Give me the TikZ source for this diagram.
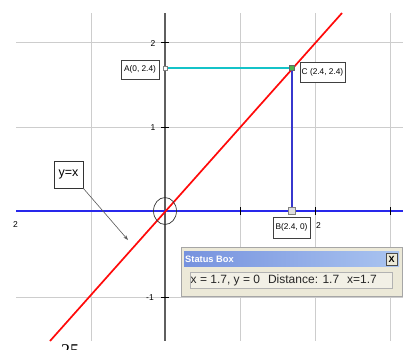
\documentclass[tikz,border=0pt]{standalone}
\usepackage{fontspec}
\setmainfont{Liberation Sans}
\newfontfamily\serifrm{Liberation Serif}
\usetikzlibrary{arrows.meta,shapes.geometric}
\definecolor{gridc}{RGB}{205,205,205}
\definecolor{axisc}{RGB}{95,95,95}
\definecolor{xaxisblue}{RGB}{40,40,235}
\definecolor{vblue}{RGB}{55,55,205}
\definecolor{cyanl}{RGB}{20,195,200}
\definecolor{redl}{RGB}{255,10,10}
\definecolor{winbg}{RGB}{236,233,216}
\definecolor{titleL}{RGB}{118,146,222}
\definecolor{titleR}{RGB}{170,196,240}
\definecolor{fieldbg}{RGB}{242,240,230}
\tikzset{
  gridline/.style={draw=gridc, line width=0.9pt},
  lbl/.style={draw=black!75, fill=white, line width=0.6pt, inner sep=0pt,
              font=\fontsize{8.3}{9}\selectfont},
  tick/.style={draw=black, line width=0.8pt},
  ticklbl/.style={inner sep=0pt, font=\fontsize{8.5}{9}\selectfont},
}
\begin{document}
\begin{tikzpicture}[x=1pt,y=-1pt]
\useasboundingbox[fill=white] (0,0) rectangle (403,349);
% grid
\foreach \x in {91,240,315,390} \draw[gridline] (\x,13) -- (\x,341);
\foreach \y in {42,127,297} \draw[gridline] (16,\y) -- (403,\y);
% y axis
\draw[draw=axisc, line width=1.2pt] (165,13) -- (165,341);
% x axis
\coordinate (xl) at (16,211);
\coordinate (xr) at (403,211);
\draw[draw=xaxisblue, line width=2pt] (xl) -- (xr);
% ticks
\foreach \y in {42,127,297} \draw[tick] (161,\y) -- (169,\y);
\foreach \x in {240,315,390} \draw[tick] (\x,207) -- (\x,215);
\node[ticklbl] (t2) at (153,44) {2};
\node[ticklbl] (t1) at (153,128) {1};
\node[ticklbl] (tm1) at (150,298) {-1};
\node[ticklbl] (tx2) at (318.5,226) {2};
\node[ticklbl] (txm2) at (15.5,225) {2};
% red line y=x
\coordinate (rb) at (50,341);
\coordinate (rt) at (342,13);
\draw[draw=redl, line width=1.7pt] (rb) -- (rt);
% points
\coordinate (A) at (165,68);
\coordinate (C) at (292,68);
\coordinate (B) at (292,211);
\draw[draw=cyanl, line width=1.8pt] (A) -- (C);
\draw[draw=vblue, line width=2.2pt] (C) -- (B);
\node[draw=gray, fill=white, line width=0.6pt, minimum size=4pt, inner sep=0pt] (Am) at (A) {};
\node[draw=black!60, fill=green!55!black!70, line width=0.5pt, minimum size=5pt, inner sep=0pt] (Cm) at (C) {};
\node[draw=gray, fill=gray!25, line width=0.6pt, minimum size=7pt, inner sep=0pt] (Bm) at (B) {};
% circle at origin
\node[ellipse, draw=black!80, line width=0.7pt, minimum width=23pt, minimum height=27pt, inner sep=0pt] (O) at (165,211) {};
% labels
\node[lbl, minimum width=38pt, minimum height=19pt] (Al) at (140,69.5) {A(0, 2.4)};
\node[lbl, minimum width=45pt, minimum height=20pt] (Cl) at (322.5,72) {C (2.4, 2.4)};
\node[lbl, minimum width=37pt, minimum height=21pt] (Bl) at (291.5,227.5) {B(2.4, 0)};
\node[draw=black!80, fill=white, line width=0.7pt, inner sep=0pt, minimum width=29pt, minimum height=27pt,
      font=\fontsize{12.5}{13}\selectfont] (yx) at (68.5,174.5) {y=x};
\coordinate (yxt) at (128,240);
\draw[draw=black!65, line width=0.6pt, -{Stealth[length=5pt,width=3.5pt]}] (yx.south east) -- (yxt);
% status box
\node[draw=gray!70, fill=winbg, line width=0.8pt, minimum width=221pt, minimum height=49pt, inner sep=0pt] (win) at (291.5,271.5) {};
\node[left color=titleL, right color=titleR, draw=none, minimum width=215pt, minimum height=15pt, inner sep=0pt] (tbar) at (291.5,258.5) {};
\node[anchor=west, text=white, inner sep=0pt, font=\bfseries\fontsize{9.3}{10}\selectfont] (ttl) at (185,259) {Status Box};
\node[draw=black!70, fill=winbg, line width=0.5pt, minimum width=11pt, minimum height=12pt, inner sep=0pt,
      font=\bfseries\fontsize{9}{9}\selectfont] (close) at (391.5,259) {X};
\node[draw=gray!60, fill=fieldbg, line width=0.6pt, minimum width=202pt, minimum height=16pt, inner sep=0pt] (field) at (291,280) {};
\node[anchor=west, inner sep=0pt, text=black!85, font=\fontsize{12}{13}\selectfont] (stat) at (190.5,280.5) {x = 1.7, y = 0\hspace{8pt}Distance: 1.7\hspace{8pt}x=1.7};
% partial text at bottom
\node[anchor=north west, inner sep=0pt, font=\serifrm\fontsize{18}{20}\selectfont] (pg) at (61,344.5) {25};
\end{tikzpicture}
\end{document}
